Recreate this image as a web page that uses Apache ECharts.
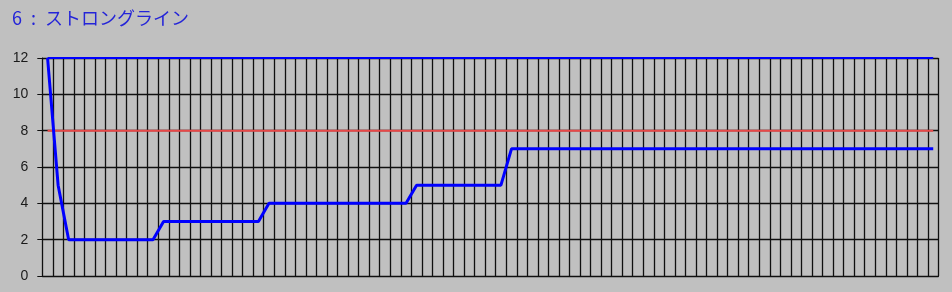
<!DOCTYPE html>
<html>
<head>
<meta charset="utf-8">
<script src="https://cdn.jsdelivr.net/npm/echarts@6/dist/echarts.min.js"></script>
<style>
html,body{margin:0;padding:0;background:#C0C0C0;}
#c{width:952px;height:292px;}
</style>
</head>
<body>
<div id="c"></div>
<script>
var titleText = "6\u2002:\u2002ストロングライン";
var categories = [];
for (var k = 1; k <= 85; k++) categories.push(String(k));
var strongLine = [12, 5,
  2, 2, 2, 2, 2, 2, 2, 2, 2,
  3, 3, 3, 3, 3, 3, 3, 3, 3, 3,
  4, 4, 4, 4, 4, 4, 4, 4, 4, 4, 4, 4, 4, 4,
  5, 5, 5, 5, 5, 5, 5, 5, 5,
  7, 7, 7, 7, 7, 7, 7, 7, 7, 7, 7, 7, 7, 7, 7, 7, 7, 7, 7, 7, 7,
  7, 7, 7, 7, 7, 7, 7, 7, 7, 7, 7, 7, 7, 7, 7, 7, 7, 7, 7, 7];
var upperLevel = 12;
var refLevel = 8;
var yTicks = [0, 2, 4, 6, 8, 10, 12];

var upperData = categories.map(function(){ return upperLevel; });
var refData = categories.map(function(){ return refLevel; });

var chart = echarts.init(document.getElementById('c'), null, {renderer: 'canvas'});
chart.setOption({
  backgroundColor: '#C0C0C0',
  animation: false,
  title: {
    text: titleText,
    left: 7, top: 4,
    textStyle: {color: '#2424D8', fontSize: 18, fontWeight: 'normal', fontFamily: '"Noto Sans CJK JP", sans-serif'}
  },
  grid: {left: 42.3, right: 13.5, top: 58, bottom: 16, show: false},
  xAxis: {
    type: 'category',
    data: categories,
    boundaryGap: true,
    axisLine: {show: true, lineStyle: {color: '#101010', width: 1}},
    axisTick: {show: false},
    axisLabel: {show: false},
    splitLine: {show: true, interval: 0, lineStyle: {color: '#101010', width: 1.3}}
  },
  yAxis: {
    type: 'value',
    min: yTicks[0], max: yTicks[yTicks.length - 1], interval: 2,
    axisLine: {show: true, lineStyle: {color: '#101010', width: 1}},
    axisTick: {show: true, length: 5, lineStyle: {color: '#101010'}},
    axisLabel: {color: '#1a1a1a', fontSize: 14, margin: 14, fontFamily: '"Liberation Sans", Arial, sans-serif'},
    splitLine: {show: true, lineStyle: {color: '#101010', width: 1.3}}
  },
  series: [
    {type: 'line', data: refData, symbol: 'none', lineStyle: {color: '#E84848', width: 2}, z: 3},
    {type: 'line', data: upperData, symbol: 'none', lineStyle: {color: '#0000FF', width: 2}, z: 3},
    {type: 'line', data: strongLine, symbol: 'none', lineStyle: {color: '#0000FF', width: 3}, z: 4}
  ]
});
</script>
</body>
</html>
